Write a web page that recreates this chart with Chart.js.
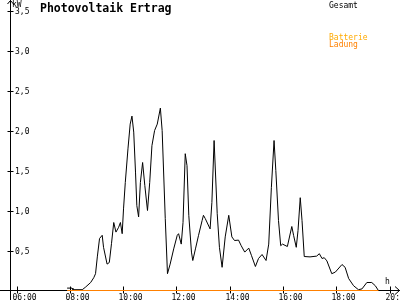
<!DOCTYPE html>
<html>
<head>
<meta charset="utf-8">
<script src="https://cdn.jsdelivr.net/npm/chart.js@4/dist/chart.umd.min.js"></script>
<style>
  body { margin: 0; background: #fff; }
  canvas { display: block; }
</style>
</head>
<body>
<canvas id="pvChart" width="400" height="300"></canvas>
<script>
// Gesamt (kW)
const gesamtTimes = [
  "07:54", "08:05", "08:07", "08:28", "08:35", "08:47", "08:54", "08:58", "09:02", "09:07",
  "09:13", "09:16", "09:24", "09:29", "09:34", "09:39", "09:44", "09:50", "09:54", "09:58",
  "10:01", "10:05", "10:11", "10:16", "10:20", "10:24", "10:28", "10:31", "10:35", "10:39",
  "10:44", "10:49", "10:55", "11:00", "11:05", "11:11", "11:17", "11:24", "11:28", "11:35",
  "11:40", "11:46", "11:54", "12:02", "12:05", "12:11", "12:15", "12:20", "12:24", "12:28",
  "12:34", "12:37", "12:43", "12:50", "12:58", "13:01", "13:05", "13:16", "13:20", "13:25",
  "13:32", "13:37", "13:43", "13:50", "13:58", "14:05", "14:11", "14:20", "14:26", "14:34",
  "14:43", "14:49", "14:58", "15:05", "15:13", "15:22", "15:28", "15:34", "15:40", "15:44",
  "15:50", "15:55", "15:59", "16:10", "16:20", "16:24", "16:30", "16:34", "16:39", "16:43",
  "16:48", "17:01", "17:16", "17:22", "17:28", "17:33", "17:39", "17:50", "17:58", "18:13",
  "18:20", "18:28", "18:39", "18:50", "18:58", "19:09", "19:20", "19:28", "19:35"
];
const gesamtKW = [
  0.03, 0.03, 0.01, 0.01, 0.04, 0.10, 0.16, 0.21, 0.42, 0.65,
  0.69, 0.54, 0.33, 0.35, 0.59, 0.85, 0.73, 0.79, 0.85, 0.71,
  1.02, 1.35, 1.77, 2.08, 2.18, 1.98, 1.48, 1.06, 0.92, 1.35,
  1.60, 1.31, 1.00, 1.35, 1.81, 2.00, 2.08, 2.28, 2.00, 0.90,
  0.21, 0.33, 0.52, 0.69, 0.71, 0.58, 0.85, 1.71, 1.56, 0.94,
  0.48, 0.375, 0.52, 0.69, 0.875, 0.94, 0.90, 0.77, 1.10, 1.875,
  0.96, 0.54, 0.29, 0.67, 0.94, 0.67, 0.625, 0.63, 0.56, 0.48,
  0.53, 0.44, 0.30, 0.40, 0.45, 0.375, 0.58, 1.29, 1.875, 1.50,
  0.875, 0.56, 0.58, 0.55, 0.80, 0.69, 0.54, 0.75, 1.16, 0.875,
  0.425, 0.42, 0.43, 0.46, 0.40, 0.41, 0.37, 0.21, 0.23, 0.325,
  0.29, 0.15, 0.06, 0.01, 0.02, 0.10, 0.10, 0.06, 0.0
];

// Batterie Ladung (kW)
const ladungTimes = ["07:54", "19:35"];
const ladungKW = [0, 0];

const xTickLabels = ["06:00", "08:00", "10:00", "12:00", "14:00", "16:00", "18:00", "20:00"];
const yTickValues = [0.5, 1.0, 1.5, 2.0, 2.5, 3.0, 3.5];

const toHours = (t) => {
  let [h, m] = t.split(":").map(Number);
  return h + m / 60;
};

const toPoints = (times, values) => times.map((t, i) => ({ x: toHours(t), y: values[i] }));

const FONT = "DejaVu Sans Mono";

// axes, ticks, arrows and texts in the style of the original
const axesPlugin = {
  id: "axes",
  beforeDatasetsDraw(chart) {
    const ctx = chart.ctx;
    const xs = chart.scales.x;
    const ys = chart.scales.y;
    const ax = chart.chartArea.left;
    const base = ys.getPixelForValue(0);

    ctx.save();
    ctx.strokeStyle = "#000";
    ctx.fillStyle = "#000";
    ctx.lineWidth = 1;

    ctx.beginPath();
    // y axis + arrow
    ctx.moveTo(ax, 0);
    ctx.lineTo(ax, 300);
    ctx.moveTo(ax - 3, 4);
    ctx.lineTo(ax, 0.5);
    ctx.lineTo(ax + 3, 4);
    // x axis + arrow
    ctx.moveTo(0, base);
    ctx.lineTo(400, base);
    ctx.moveTo(395, base - 4);
    ctx.lineTo(399.5, base);
    ctx.lineTo(395, base + 4);
    ctx.stroke();

    ctx.font = "8px " + FONT;
    ctx.textBaseline = "middle";
    ctx.textAlign = "left";
    yTickValues.forEach((v) => {
      let py = Math.round(ys.getPixelForValue(v)) + 0.5;
      ctx.beginPath();
      ctx.moveTo(ax - 3, py);
      ctx.lineTo(ax + 3, py);
      ctx.stroke();
      ctx.fillText(v.toFixed(1).replace(".", ","), ax + 4.5, py);
    });

    ctx.textBaseline = "top";
    xTickLabels.forEach((lbl) => {
      let px = Math.round(xs.getPixelForValue(toHours(lbl))) + 0.5;
      ctx.beginPath();
      ctx.moveTo(px, base - 4);
      ctx.lineTo(px, base + 3);
      ctx.stroke();
      ctx.fillText(lbl, px - 5, base + 3.5);
    });

    ctx.textBaseline = "alphabetic";
    ctx.fillText("kW", ax + 1.5, 7);
    ctx.fillText("h", 385, base - 7);
    ctx.restore();
  },
  afterDraw(chart) {
    const ctx = chart.ctx;
    ctx.save();
    ctx.textAlign = "left";
    ctx.textBaseline = "alphabetic";
    ctx.fillStyle = "#000";
    ctx.font = "bold 11.5px " + FONT;
    ctx.fillText("Photovoltaik Ertrag", 40, 11.5);

    ctx.font = "8px " + FONT;
    ctx.fillText("Gesamt", 329, 7.5);
    ctx.fillStyle = "#ffaa00";
    ctx.fillText("Batterie", 329, 39.5);
    ctx.fillStyle = "#ff8000";
    ctx.fillText("Ladung", 329, 47);
    ctx.restore();
  },
};

const ctx = document.getElementById("pvChart").getContext("2d");

new Chart(ctx, {
  type: "line",
  data: {
    datasets: [
      {
        label: "Batterie Ladung",
        data: toPoints(ladungTimes, ladungKW),
        borderColor: "#ff8000",
        borderWidth: 1,
        pointRadius: 0,
        tension: 0,
        clip: false,
        order: 0,
      },
      {
        label: "Gesamt",
        data: toPoints(gesamtTimes, gesamtKW),
        borderColor: "#000000",
        borderWidth: 1,
        pointRadius: 0,
        tension: 0,
        clip: false,
        order: 1,
      },
    ],
  },
  options: {
    animation: false,
    responsive: false,
    devicePixelRatio: 1,
    layout: { padding: { left: 10.5, right: 0, top: 0, bottom: 9.5 } },
    plugins: {
      legend: { display: false },
      tooltip: { enabled: false },
    },
    scales: {
      x: { type: "linear", display: false, min: 5.7748, max: 20.394 },
      y: { type: "linear", display: false, min: 0, max: 3.63125 },
    },
  },
  plugins: [axesPlugin],
});
</script>
</body>
</html>
